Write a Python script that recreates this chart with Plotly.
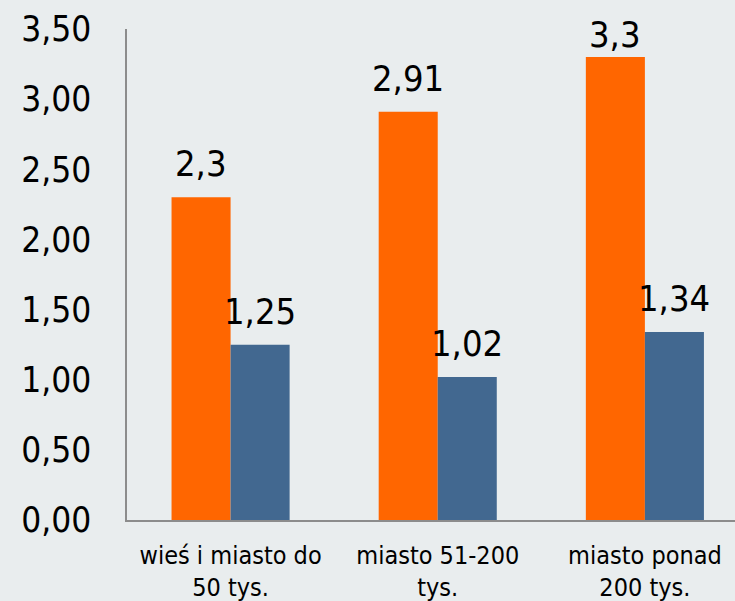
import plotly.graph_objects as go

categories = ["wieś i miasto do<br>50 tys.", "miasto 51-200<br>tys.", "miasto ponad<br>200 tys."]
series_a = [2.3, 2.91, 3.3]
series_b = [1.25, 1.02, 1.34]
y_ticks = [0, 0.5, 1.0, 1.5, 2.0, 2.5, 3.0, 3.5]
y_tick_labels = ["0,00", "0,50", "1,00", "1,50", "2,00", "2,50", "3,00", "3,50"]

BG = "#E9EDEE"
ORANGE = "#FF6600"
BLUE = "#426890"
FONT = "Tahoma, 'DejaVu Sans Condensed', 'DejaVu Sans', sans-serif"
Y_MAX = 3.5

fig = go.Figure()
fig.add_bar(x=list(range(3)), y=series_a, marker=dict(color=ORANGE, line=dict(width=0)), name="A")
fig.add_bar(x=list(range(3)), y=series_b, marker=dict(color=BLUE, line=dict(width=0)), name="B")

bargap = 0.43
half = (1 - bargap) / 4
annotations = []
for i, (a, b) in enumerate(zip(series_a, series_b)):
    for v, off in ((a, -half), (b, half)):
        # labels near the top of the plot are pushed down to stay inside the chart area
        shift = 11 if v < Y_MAX - 0.25 else 0
        annotations.append(dict(
            x=i + off, y=v, xref="x", yref="y",
            text=f"{v:g}".replace(".", ","), showarrow=False,
            yanchor="bottom", yshift=shift,
            font=dict(size=36, color="black", family=FONT)))

fig.update_layout(
    width=735, height=601,
    paper_bgcolor=BG, plot_bgcolor=BG,
    margin=dict(l=127, r=0, t=29, b=81),
    barmode="group", bargap=bargap, bargroupgap=0,
    showlegend=False,
    annotations=annotations,
    font=dict(family=FONT, color="black"),
)
fig.update_xaxes(
    range=[-0.5, 2.435],
    tickmode="array", tickvals=list(range(3)), ticktext=categories,
    tickfont=dict(size=25, family=FONT, color="black"),
    showline=True, linecolor="#8C8C8C", linewidth=1.5,
    showgrid=False, zeroline=False, ticks="", ticklabelstandoff=12,
)
fig.update_yaxes(
    range=[0, Y_MAX],
    tickmode="array", tickvals=y_ticks, ticktext=y_tick_labels,
    tickfont=dict(size=35, family=FONT, color="black"),
    showline=True, linecolor="#8C8C8C", linewidth=1.5,
    showgrid=False, zeroline=False, ticks="", ticklabelstandoff=27,
)

fig.write_html("out.html", config={"displayModeBar": False},
               post_script="document.body.style.margin='0';")
